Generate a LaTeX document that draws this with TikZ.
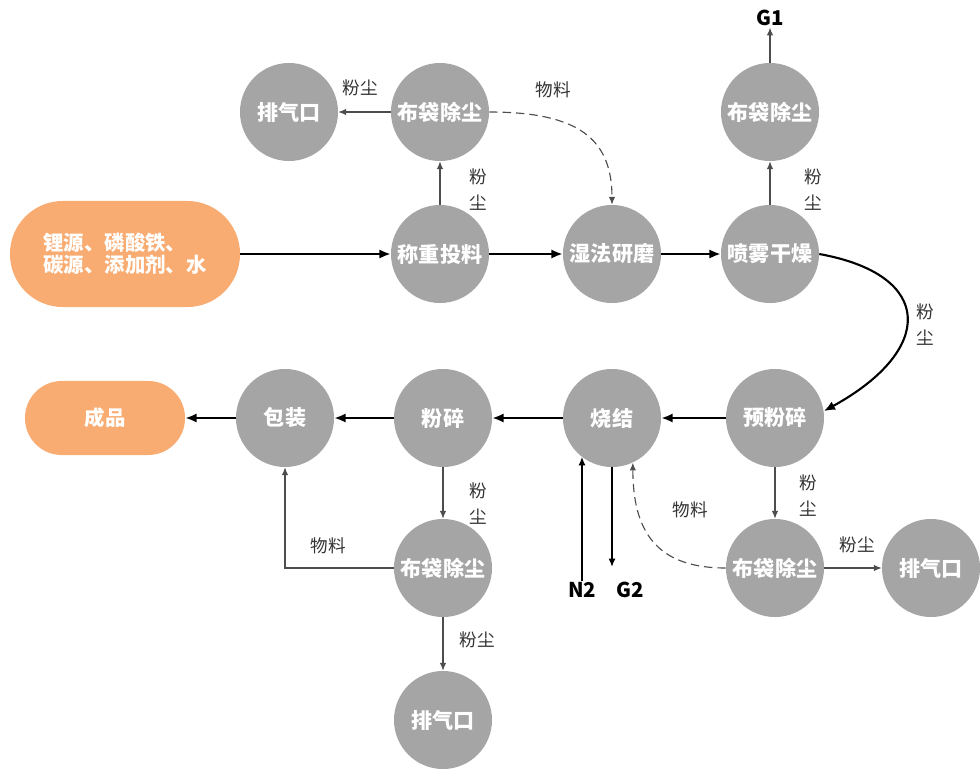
\documentclass[tikz,border=0pt]{standalone}
\usepackage{fontspec}
\setmainfont{Noto Sans CJK SC}
\usepackage{xcolor}
\usepackage{tikz}
\usetikzlibrary{arrows.meta,positioning,calc}

\definecolor{procgray}{HTML}{A5A5A5}
\definecolor{srcorange}{HTML}{F8AC72}
\definecolor{linegray}{HTML}{4D4D4D}
\definecolor{lblgray}{HTML}{333333}

\begin{document}
\begin{tikzpicture}[x=0.025cm,y=0.025cm,
        proc/.style={circle, fill=procgray, minimum size=2.45cm, inner sep=0pt, text=white, font=\fontsize{15}{17}\selectfont\bfseries},
        src/.style={fill=srcorange, inner sep=0pt, text=white, font=\fontsize{14.5}{15.6}\selectfont\bfseries},
        lbl/.style={text=lblgray, align=center, inner sep=0pt, font=\fontsize{12.5}{18.5}\selectfont},
        gas/.style={inner sep=1pt, font=\fontsize{14.5}{17}\selectfont\bfseries},
        flow/.style={black, line width=1.5pt, -{Latex[length=8pt,width=6.5pt]}},
        side/.style={linegray, line width=0.8pt, -{Latex[length=5.5pt,width=4.5pt]}},
        gasline/.style={black, line width=1.1pt, -{Latex[length=6pt,width=5pt]}}]
    \useasboundingbox (0,0) rectangle (980,-769);

    % upper row
    \node[src, minimum width=5.75cm, minimum height=2.65cm, rounded corners=1.32cm, align=left] (raw) at (125,-254) {锂源、磷酸铁、\\碳源、添加剂、水};
    \node[proc] (weigh) at (440,-254) {称重投料};
    \node[proc] (mill) at (612,-254) {湿法研磨};
    \node[proc] (spray) at (770,-254) {喷雾干燥};
    \node[proc] (bag1) at (440,-112) {布袋除尘};
    \node[proc] (vent1) at (289,-112) {排气口};
    \node[proc] (bag2) at (770,-112) {布袋除尘};
    \node[gas] (g1) at (770,-18) {G1};

    % lower row
    \node[proc] (pre) at (775,-418) {预粉碎};
    \node[proc] (sinter) at (612,-418) {烧结};
    \node[proc] (crush) at (443,-418) {粉碎};
    \node[proc] (pack) at (285,-418) {包装};
    \node[src, minimum width=4cm, minimum height=1.85cm, rounded corners=0.92cm] (prod) at (105,-418) {成品};
    \node[proc] (bag3) at (443,-568) {布袋除尘};
    \node[proc] (vent3) at (443,-720) {排气口};
    \node[proc] (bag4) at (775,-568) {布袋除尘};
    \node[proc] (vent4) at (931,-568) {排气口};
    \node[gas] (n2) at (582,-590) {N2};
    \node[gas] (g2) at (630,-590) {G2};
    \coordinate (g2end) at (612,-567);

    % main flow
    \draw[flow] (raw) -- (weigh);
    \draw[flow] (weigh) -- (mill);
    \draw[flow] (mill) -- (spray);
    \draw[flow] (spray.east) .. controls (935,-275) and (935,-350) .. (pre.8);
    \draw[flow] (pre) -- (sinter);
    \draw[flow] (sinter) -- (crush);
    \draw[flow] (crush) -- (pack);
    \draw[flow] (pack) -- (prod);

    % dust and material
    \draw[side] (weigh) -- (bag1);
    \draw[side] (bag1) -- (vent1);
    \draw[side, dash pattern=on 6pt off 3.5pt] (bag1.east) .. controls (580,-112) and (612,-140) .. (mill.north);
    \draw[side] (spray) -- (bag2);
    \draw[side] (bag2) -- (g1);
    \draw[side] (pre) -- (bag4);
    \draw[side] (bag4) -- (vent4);
    \draw[side, dash pattern=on 6pt off 3.5pt] (bag4.west) .. controls (655,-568) and (633,-530) .. (sinter.-65);
    \draw[side] (crush) -- (bag3);
    \draw[side] (bag3) -- (vent3);
    \draw[side] (bag3.west) -| (pack.south);
    \draw[gasline] (n2.north) -- (n2.north |- sinter.-128);
    \draw[gasline] (sinter.south) -- (g2end);

    % labels
    \node[lbl] (l1) at (360,-88) {粉尘};
    \node[lbl] (l2) at (478,-190) {粉\\尘};
    \node[lbl] (l3) at (553,-90) {物料};
    \node[lbl] (l4) at (813,-190) {粉\\尘};
    \node[lbl] (l5) at (925,-325) {粉\\尘};
    \node[lbl] (l6) at (808,-496) {粉\\尘};
    \node[lbl] (l7) at (857,-545) {粉尘};
    \node[lbl] (l8) at (690,-510) {物料};
    \node[lbl] (l9) at (478,-504) {粉\\尘};
    \node[lbl] (l10) at (328,-546) {物料};
    \node[lbl] (l11) at (477,-640) {粉尘};
\end{tikzpicture}
\end{document}
